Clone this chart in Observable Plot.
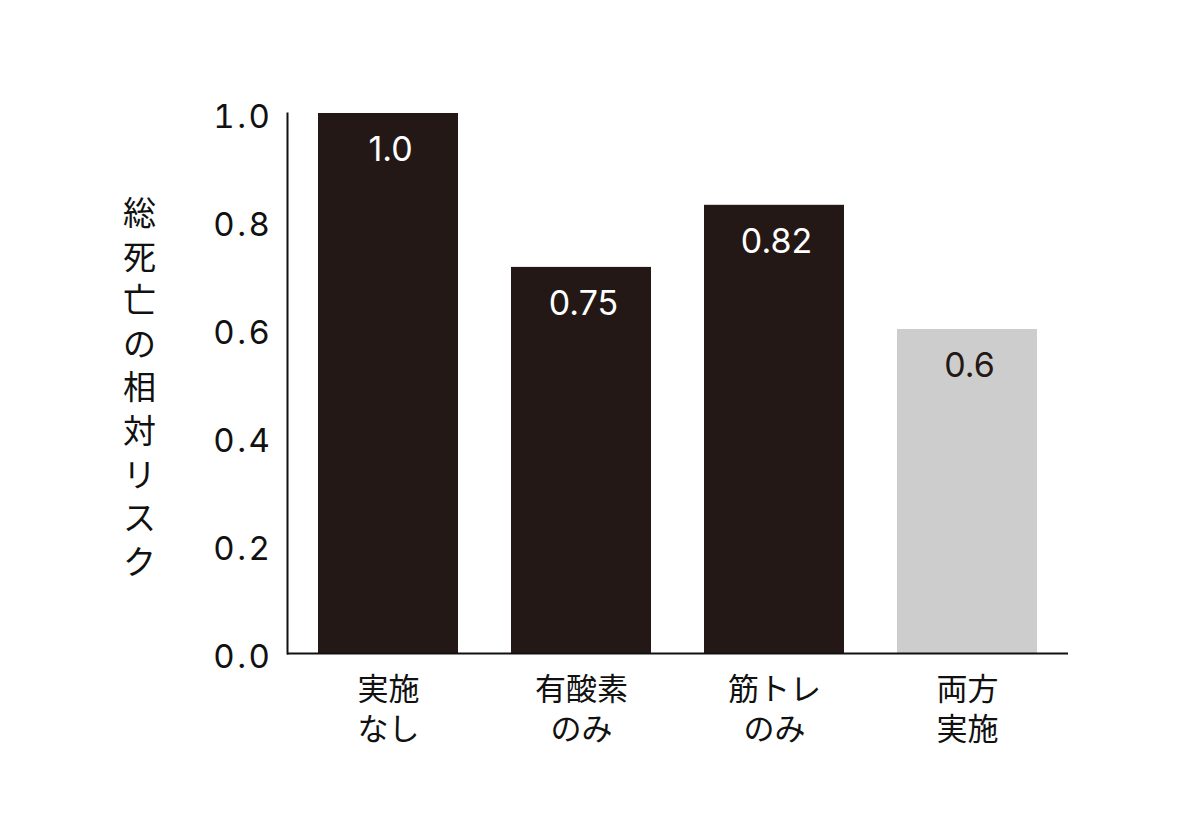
<!DOCTYPE html>
<html>
<head>
<meta charset="utf-8">
<script src="https://cdn.jsdelivr.net/npm/d3@7"></script>
<script src="https://cdn.jsdelivr.net/npm/@observablehq/plot@0.6"></script>
<style>
  html, body { margin: 0; padding: 0; background: #fff; }
  #chart svg { display: block; font-family: "Noto Sans CJK JP", "Noto Sans", sans-serif; }
  g[aria-label="value-label"] text { letter-spacing: 3.5px; }
  g[aria-label="y-axis tick label"] text { letter-spacing: 2.5px; }
</style>
</head>
<body>
<div id="chart"></div>
<script>
const categories = ["実施\nなし", "有酸素\nのみ", "筋トレ\nのみ", "両方\n実施"];
const barHeights = [1.0, 0.715, 0.83, 0.6];
const valueLabels = ["1.0", "0.75", "0.82", "0.6"];
const barColors = ["#231815", "#231815", "#231815", "#cdcdcd"];
const labelColors = ["#ffffff", "#ffffff", "#ffffff", "#231815"];
const yTicks = [0, 0.2, 0.4, 0.6, 0.8, 1.0];
const yTitle = "総死亡の相対リスク";

const data = categories.map((c, i) => ({
  cat: c, h: barHeights[i], label: valueLabels[i], fill: barColors[i], color: labelColors[i]
}));

const numFont = 'Inter, "Noto Sans", sans-serif';

const plot = Plot.plot({
  width: 1200,
  height: 822,
  marginLeft: 287,
  marginRight: 132,
  marginTop: 113,
  marginBottom: 169,
  style: { fontFamily: '"Noto Sans CJK JP", "Noto Sans", sans-serif', background: "#fff" },
  x: { domain: categories, paddingInner: 0.277, paddingOuter: 0.1545, axis: null },
  y: { domain: [0, 1], axis: null },
  marks: [
    Plot.barY(data, { x: "cat", y: "h", fill: "fill" }),
    Plot.text(data, {
      x: "cat", y: "h", text: "label", fill: "color",
      dy: 37, dx: 2, fontSize: 34, lineAnchor: "middle", fontFamily: numFont,
      ariaLabel: "value-label"
    }),
    Plot.axisY({
      ticks: yTicks, tickSize: 0, tickPadding: 15, tickFormat: d3.format(".1f"),
      fontSize: 33, dy: 4, fill: "#111", label: null, fontFamily: numFont
    }),
    Plot.axisX({
      tickSize: 0, tickPadding: 17, fontSize: 31, lineHeight: 1.32, fill: "#111", label: null
    }),
    Plot.ruleY([0], { stroke: "#111", strokeWidth: 2 }),
    Plot.frame({ anchor: "left", stroke: "#111", strokeWidth: 2 }),
    Plot.text([yTitle], {
      text: d => d.split("").join("\n"),
      frameAnchor: "left", dx: -148, dy: 2,
      textAnchor: "middle", lineAnchor: "middle", lineHeight: 1.32,
      fontSize: 33, fill: "#111"
    })
  ]
});
document.getElementById("chart").appendChild(plot);
</script>
</body>
</html>
